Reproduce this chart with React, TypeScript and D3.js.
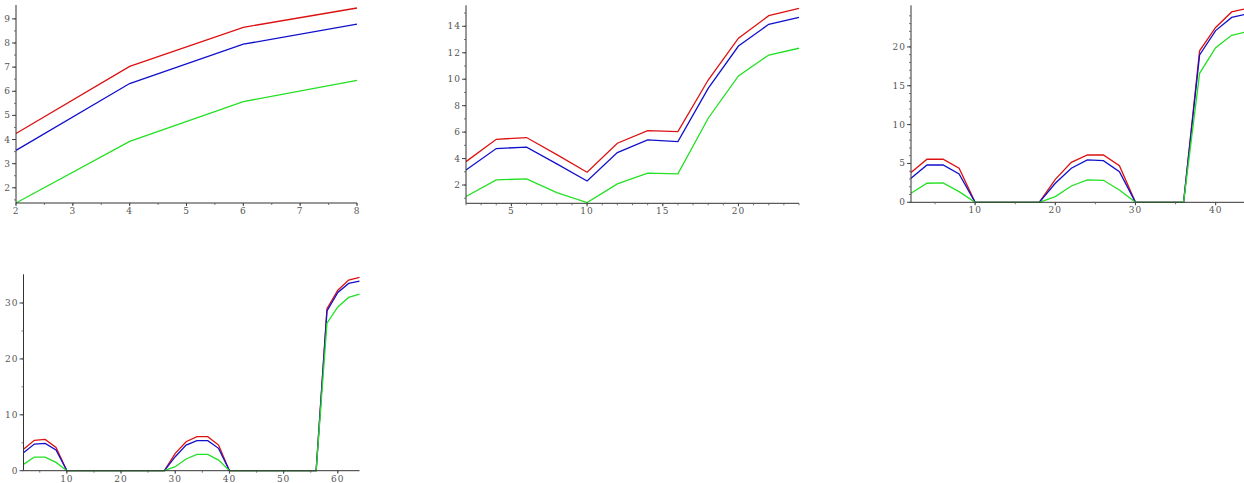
import React from "react";
import * as d3 from "d3";

const x1 = [2, 4, 6, 8];
const red1 = [4.25, 7.03, 8.65, 9.45];
const blue1 = [3.55, 6.32, 7.95, 8.78];
const green1 = [1.37, 3.92, 5.57, 6.45];

const x2 = [2, 4, 6, 8, 10, 12, 14, 16, 18, 20, 22, 24];
const red2 = [3.77, 5.46, 5.59, 4.3, 2.97, 5.16, 6.12, 6.04, 9.94, 13.1, 14.8, 15.36];
const blue2 = [3.14, 4.76, 4.86, 3.6, 2.31, 4.45, 5.41, 5.28, 9.31, 12.51, 14.15, 14.68];
const green2 = [1.13, 2.39, 2.46, 1.43, 0.68, 2.09, 2.9, 2.84, 7.05, 10.25, 11.83, 12.34];

const x3 = [2, 4, 6, 8, 10, 12, 14, 16, 18, 20, 22, 24, 26, 28, 30, 32, 34, 36, 38, 40, 42, 44];
const red3 = [3.82, 5.54, 5.54, 4.38, 0, 0, 0, 0, 0, 2.96, 5.15, 6.09, 6.09, 4.72, 0, 0, 0, 0, 19.5, 22.5, 24.5, 24.97];
const blue3 = [3.09, 4.8, 4.8, 3.65, 0, 0, 0, 0, 0, 2.45, 4.38, 5.45, 5.36, 3.95, 0, 0, 0, 0, 18.97, 22.1, 23.8, 24.25];
const green3 = [1.16, 2.45, 2.49, 1.37, 0, 0, 0, 0, 0, 0.73, 2.1, 2.88, 2.83, 1.59, 0, 0, 0, 0, 16.6, 19.9, 21.5, 21.97];

const x4 = [2, 4, 6, 8, 10, 12, 14, 16, 18, 20, 22, 24, 26, 28, 30, 32, 34, 36, 38, 40, 42, 44, 46, 48, 50, 52, 54, 56, 58, 60, 62, 64];
const red4 = [3.82, 5.43, 5.6, 4.17, 0, 0, 0, 0, 0, 0, 0, 0, 0, 0, 3.1, 5.19, 6.08, 6.08, 4.59, 0, 0, 0, 0, 0, 0, 0, 0, 0, 29.0, 32.3, 34.1, 34.6];
const blue4 = [3.22, 4.77, 4.89, 3.7, 0, 0, 0, 0, 0, 0, 0, 0, 0, 0, 2.5, 4.59, 5.37, 5.37, 4.0, 0, 0, 0, 0, 0, 0, 0, 0, 0, 28.6, 31.9, 33.5, 33.9];
const green4 = [1.13, 2.44, 2.44, 1.49, 0, 0, 0, 0, 0, 0, 0, 0, 0, 0, 0.72, 2.09, 2.92, 2.92, 1.9, 0, 0, 0, 0, 0, 0, 0, 0, 0, 26.4, 29.3, 31.0, 31.6];

const xTicks1 = [2, 3, 4, 5, 6, 7, 8];
const yTicks1 = [2, 3, 4, 5, 6, 7, 8, 9];
const xTicks2 = [5, 10, 15, 20];
const yTicks2 = [2, 4, 6, 8, 10, 12, 14];
const xTicks3 = [10, 20, 30, 40];
const yTicks3 = [0, 5, 10, 15, 20];
const xTicks4 = [10, 20, 30, 40, 50, 60];
const yTicks4 = [0, 10, 20, 30];

const RED = "#dd1111";
const BLUE = "#1010cc";
const GREEN = "#22e022";

type PanelProps = {
  xs: number[];
  series: number[][];
  xDomain: [number, number];
  yDomain: [number, number];
  xRange: [number, number];
  yRange: [number, number];
  xTicks: number[];
  yTicks: number[];
  xMinor: number;
  yMinor: number;
};

function Panel(p: PanelProps) {
  const xs = d3.scaleLinear().domain(p.xDomain).range(p.xRange);
  const ys = d3.scaleLinear().domain(p.yDomain).range(p.yRange);
  const colors = [RED, BLUE, GREEN];
  const x0 = p.xRange[0];
  const yb = p.yRange[0];
  const xMinors = d3.range(Math.ceil(p.xDomain[0] / p.xMinor) * p.xMinor, p.xDomain[1] + 1e-9, p.xMinor);
  const yMinors = d3.range(Math.ceil(p.yDomain[0] / p.yMinor) * p.yMinor, p.yDomain[1] + 1e-9, p.yMinor);
  const line = d3
    .line<number>()
    .x((_, i) => xs(p.xs[i]))
    .y((d) => ys(d));
  return (
    <g>
      {p.series.map((s, k) => (
        <path key={k} d={line(s) || ""} fill="none" stroke={colors[k]} strokeWidth={1.3} />
      ))}
      <line x1={x0} x2={p.xRange[1]} y1={yb} y2={yb} stroke="#333" strokeWidth={1} />
      <line x1={x0} x2={x0} y1={yb} y2={p.yRange[1] - 3} stroke="#333" strokeWidth={1} />
      {xMinors.map((t, i) => (
        <line key={"xm" + i} x1={xs(t)} x2={xs(t)} y1={yb} y2={yb + 2} stroke="#555" strokeWidth={0.8} />
      ))}
      {yMinors.map((t, i) => (
        <line key={"ym" + i} x1={x0 - 2} x2={x0} y1={ys(t)} y2={ys(t)} stroke="#555" strokeWidth={0.8} />
      ))}
      {p.xTicks.map((t, i) => (
        <g key={"xt" + i}>
          <line x1={xs(t)} x2={xs(t)} y1={yb} y2={yb + 3} stroke="#444" strokeWidth={1} />
          <text x={xs(t)} y={yb + 11} textAnchor="middle" fontSize={9} fill="#555" fontFamily="DejaVu Serif" letterSpacing={1}>
            {t}
          </text>
        </g>
      ))}
      {p.yTicks.map((t, i) => (
        <g key={"yt" + i}>
          <line x1={x0 - 4} x2={x0} y1={ys(t)} y2={ys(t)} stroke="#444" strokeWidth={1} />
          <text x={x0 - 5} y={ys(t) + 3} textAnchor="end" fontSize={9} fill="#555" fontFamily="DejaVu Serif" letterSpacing={1}>
            {t}
          </text>
        </g>
      ))}
    </g>
  );
}

export default function App() {
  return (
    <svg width={1244} height={483} style={{ position: "absolute", left: 0, top: 0, background: "#fff" }}>
      <Panel
        xs={x1}
        series={[red1, blue1, green1]}
        xDomain={[2, 8]}
        yDomain={[1.37, 9.45]}
        xRange={[16, 357]}
        yRange={[203, 8]}
        xTicks={xTicks1}
        yTicks={yTicks1}
        xMinor={0.5}
        yMinor={0.5}
      />
      <Panel
        xs={x2}
        series={[red2, blue2, green2]}
        xDomain={[2, 24]}
        yDomain={[0.62, 15.36]}
        xRange={[466, 799]}
        yRange={[203.3, 8.3]}
        xTicks={xTicks2}
        yTicks={yTicks2}
        xMinor={1}
        yMinor={1}
      />
      <Panel
        xs={x3}
        series={[red3, blue3, green3]}
        xDomain={[2, 44]}
        yDomain={[0, 24.97]}
        xRange={[911, 1247.7]}
        yRange={[202.3, 8.3]}
        xTicks={xTicks3}
        yTicks={yTicks3}
        xMinor={5}
        yMinor={1}
      />
      <Panel
        xs={x4}
        series={[red4, blue4, green4]}
        xDomain={[2, 64]}
        yDomain={[0, 34.6]}
        xRange={[23.5, 359.5]}
        yRange={[470.7, 277.3]}
        xTicks={xTicks4}
        yTicks={yTicks4}
        xMinor={5}
        yMinor={5}
      />
    </svg>
  );
}
